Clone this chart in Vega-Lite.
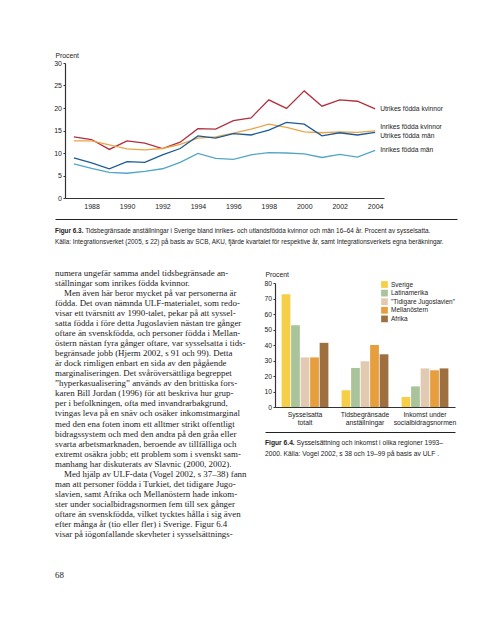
{
  "$schema": "https://vega.github.io/schema/vega-lite/v6.json",
  "background": "white",
  "padding": {"left": 53, "top": 52, "right": 4, "bottom": 4},
  "bounds": "flush",
  "spacing": 21,
  "resolve": {"scale": {"color": "independent"}, "legend": {"color": "independent"}},
  "datasets": {
    "lines": [
      {"year": 1987, "series": "Utrikes födda kvinnor", "value": 13.6},
      {"year": 1988, "series": "Utrikes födda kvinnor", "value": 13.0},
      {"year": 1989, "series": "Utrikes födda kvinnor", "value": 10.8},
      {"year": 1990, "series": "Utrikes födda kvinnor", "value": 12.7},
      {"year": 1991, "series": "Utrikes födda kvinnor", "value": 12.2},
      {"year": 1992, "series": "Utrikes födda kvinnor", "value": 11.0},
      {"year": 1993, "series": "Utrikes födda kvinnor", "value": 12.4},
      {"year": 1994, "series": "Utrikes födda kvinnor", "value": 15.4},
      {"year": 1995, "series": "Utrikes födda kvinnor", "value": 15.3},
      {"year": 1996, "series": "Utrikes födda kvinnor", "value": 17.2},
      {"year": 1997, "series": "Utrikes födda kvinnor", "value": 17.8},
      {"year": 1998, "series": "Utrikes födda kvinnor", "value": 21.8},
      {"year": 1999, "series": "Utrikes födda kvinnor", "value": 19.9},
      {"year": 2000, "series": "Utrikes födda kvinnor", "value": 23.8},
      {"year": 2001, "series": "Utrikes födda kvinnor", "value": 20.4},
      {"year": 2002, "series": "Utrikes födda kvinnor", "value": 21.8},
      {"year": 2003, "series": "Utrikes födda kvinnor", "value": 21.5},
      {"year": 2004, "series": "Utrikes födda kvinnor", "value": 19.8},
      {"year": 1987, "series": "Inrikes födda kvinnor", "value": 12.7},
      {"year": 1988, "series": "Inrikes födda kvinnor", "value": 12.7},
      {"year": 1989, "series": "Inrikes födda kvinnor", "value": 11.8},
      {"year": 1990, "series": "Inrikes födda kvinnor", "value": 10.9},
      {"year": 1991, "series": "Inrikes födda kvinnor", "value": 10.7},
      {"year": 1992, "series": "Inrikes födda kvinnor", "value": 11.0},
      {"year": 1993, "series": "Inrikes födda kvinnor", "value": 11.9},
      {"year": 1994, "series": "Inrikes födda kvinnor", "value": 13.3},
      {"year": 1995, "series": "Inrikes födda kvinnor", "value": 13.6},
      {"year": 1996, "series": "Inrikes födda kvinnor", "value": 14.4},
      {"year": 1997, "series": "Inrikes födda kvinnor", "value": 15.3},
      {"year": 1998, "series": "Inrikes födda kvinnor", "value": 16.4},
      {"year": 1999, "series": "Inrikes födda kvinnor", "value": 15.7},
      {"year": 2000, "series": "Inrikes födda kvinnor", "value": 14.7},
      {"year": 2001, "series": "Inrikes födda kvinnor", "value": 14.5},
      {"year": 2002, "series": "Inrikes födda kvinnor", "value": 14.7},
      {"year": 2003, "series": "Inrikes födda kvinnor", "value": 14.6},
      {"year": 2004, "series": "Inrikes födda kvinnor", "value": 14.9},
      {"year": 1987, "series": "Utrikes födda män", "value": 8.9},
      {"year": 1988, "series": "Utrikes födda män", "value": 7.8},
      {"year": 1989, "series": "Utrikes födda män", "value": 6.5},
      {"year": 1990, "series": "Utrikes födda män", "value": 8.1},
      {"year": 1991, "series": "Utrikes födda män", "value": 7.9},
      {"year": 1992, "series": "Utrikes födda män", "value": 9.6},
      {"year": 1993, "series": "Utrikes födda män", "value": 11.0},
      {"year": 1994, "series": "Utrikes födda män", "value": 13.8},
      {"year": 1995, "series": "Utrikes födda män", "value": 13.3},
      {"year": 1996, "series": "Utrikes födda män", "value": 14.3},
      {"year": 1997, "series": "Utrikes födda män", "value": 14.0},
      {"year": 1998, "series": "Utrikes födda män", "value": 15.1},
      {"year": 1999, "series": "Utrikes födda män", "value": 16.8},
      {"year": 2000, "series": "Utrikes födda män", "value": 16.4},
      {"year": 2001, "series": "Utrikes födda män", "value": 13.8},
      {"year": 2002, "series": "Utrikes födda män", "value": 14.5},
      {"year": 2003, "series": "Utrikes födda män", "value": 14.0},
      {"year": 2004, "series": "Utrikes födda män", "value": 14.6},
      {"year": 1987, "series": "Inrikes födda män", "value": 7.6},
      {"year": 1988, "series": "Inrikes födda män", "value": 6.6},
      {"year": 1989, "series": "Inrikes födda män", "value": 5.7},
      {"year": 1990, "series": "Inrikes födda män", "value": 5.5},
      {"year": 1991, "series": "Inrikes födda män", "value": 5.9},
      {"year": 1992, "series": "Inrikes födda män", "value": 6.5},
      {"year": 1993, "series": "Inrikes födda män", "value": 7.9},
      {"year": 1994, "series": "Inrikes födda män", "value": 9.9},
      {"year": 1995, "series": "Inrikes födda män", "value": 8.8},
      {"year": 1996, "series": "Inrikes födda män", "value": 8.6},
      {"year": 1997, "series": "Inrikes födda män", "value": 9.6},
      {"year": 1998, "series": "Inrikes födda män", "value": 10.1},
      {"year": 1999, "series": "Inrikes födda män", "value": 10.0},
      {"year": 2000, "series": "Inrikes födda män", "value": 9.8},
      {"year": 2001, "series": "Inrikes födda män", "value": 9.0},
      {"year": 2002, "series": "Inrikes födda män", "value": 9.7},
      {"year": 2003, "series": "Inrikes födda män", "value": 9.1},
      {"year": 2004, "series": "Inrikes födda män", "value": 10.6}
    ],
    "bars": [
      {"category": "Sysselsatta totalt", "region": "Sverige", "value": 72.8},
      {"category": "Sysselsatta totalt", "region": "Latinamerika", "value": 52.8},
      {"category": "Sysselsatta totalt", "region": "\"Tidigare Jugoslavien\"", "value": 32.0},
      {"category": "Sysselsatta totalt", "region": "Mellanöstern", "value": 32.0},
      {"category": "Sysselsatta totalt", "region": "Afrika", "value": 41.4},
      {"category": "Tidsbegränsade anställningar", "region": "Sverige", "value": 10.8},
      {"category": "Tidsbegränsade anställningar", "region": "Latinamerika", "value": 25.2},
      {"category": "Tidsbegränsade anställningar", "region": "\"Tidigare Jugoslavien\"", "value": 29.5},
      {"category": "Tidsbegränsade anställningar", "region": "Mellanöstern", "value": 40.0},
      {"category": "Tidsbegränsade anställningar", "region": "Afrika", "value": 34.0},
      {"category": "Inkomst under socialbidragsnormen", "region": "Sverige", "value": 6.5},
      {"category": "Inkomst under socialbidragsnormen", "region": "Latinamerika", "value": 13.3},
      {"category": "Inkomst under socialbidragsnormen", "region": "\"Tidigare Jugoslavien\"", "value": 24.9},
      {"category": "Inkomst under socialbidragsnormen", "region": "Mellanöstern", "value": 23.7},
      {"category": "Inkomst under socialbidragsnormen", "region": "Afrika", "value": 24.9}
    ],
    "body": [
      {"line": 0, "paragraphStart": false, "text": "numera ungefär samma andel tidsbegränsade an-"},
      {"line": 1, "paragraphStart": false, "text": "ställningar som inrikes födda kvinnor."},
      {"line": 2, "paragraphStart": true, "text": "Men även här beror mycket på var personerna är"},
      {"line": 3, "paragraphStart": false, "text": "födda. Det ovan nämnda ULF-materialet, som redo-"},
      {"line": 4, "paragraphStart": false, "text": "visar ett tvärsnitt av 1990-talet, pekar på att syssel-"},
      {"line": 5, "paragraphStart": false, "text": "satta födda i före detta Jugoslavien nästan tre gånger"},
      {"line": 6, "paragraphStart": false, "text": "oftare än svenskfödda, och personer födda i Mellan-"},
      {"line": 7, "paragraphStart": false, "text": "östern nästan fyra gånger oftare, var sysselsatta i tids-"},
      {"line": 8, "paragraphStart": false, "text": "begränsade jobb (Hjerm 2002, s 91 och 99). Detta"},
      {"line": 9, "paragraphStart": false, "text": "är dock rimligen enbart en sida av den pågående"},
      {"line": 10, "paragraphStart": false, "text": "marginaliseringen. Det svåröversättliga begreppet"},
      {"line": 11, "paragraphStart": false, "text": "”hyperkasualisering” används av den brittiska fors-"},
      {"line": 12, "paragraphStart": false, "text": "karen Bill Jordan (1996) för att beskriva hur grup-"},
      {"line": 13, "paragraphStart": false, "text": "per i befolkningen, ofta med invandrarbakgrund,"},
      {"line": 14, "paragraphStart": false, "text": "tvingas leva på en snäv och osäker inkomstmarginal"},
      {"line": 15, "paragraphStart": false, "text": "med den ena foten inom ett alltmer strikt offentligt"},
      {"line": 16, "paragraphStart": false, "text": "bidragssystem och med den andra på den gråa eller"},
      {"line": 17, "paragraphStart": false, "text": "svarta arbetsmarknaden, beroende av tillfälliga och"},
      {"line": 18, "paragraphStart": false, "text": "extremt osäkra jobb; ett problem som i svenskt sam-"},
      {"line": 19, "paragraphStart": false, "text": "manhang har diskuterats av Slavnic (2000, 2002)."},
      {"line": 20, "paragraphStart": true, "text": "Med hjälp av ULF-data (Vogel 2002, s 37–38) fann"},
      {"line": 21, "paragraphStart": false, "text": "man att personer födda i Turkiet, det tidigare Jugo-"},
      {"line": 22, "paragraphStart": false, "text": "slavien, samt Afrika och Mellanöstern hade inkom-"},
      {"line": 23, "paragraphStart": false, "text": "ster under socialbidragsnormen fem till sex gånger"},
      {"line": 24, "paragraphStart": false, "text": "oftare än svenskfödda, vilket tycktes hålla i sig även"},
      {"line": 25, "paragraphStart": false, "text": "efter många år (tio eller fler) i Sverige. Figur 6.4"},
      {"line": 26, "paragraphStart": false, "text": "visar på iögonfallande skevheter i sysselsättnings-"},
      {"line": 30, "paragraphStart": false, "text": "68"}
    ],
    "cap63": [
      {"line": 1, "part": "head", "text": "Figur 6.3."},
      {"line": 1, "part": "body", "text": "Tidsbegränsade anställningar i Sverige bland inrikes- och utlandsfödda kvinnor och män 16–64 år. Procent av sysselsatta."},
      {"line": 2, "part": "full", "text": "Källa: Integrationsverket (2005, s 22) på basis av SCB, AKU, fjärde kvartalet för respektive år, samt Integrationsverkets egna beräkningar."}
    ],
    "cap64": [
      {"line": 1, "part": "head", "text": "Figur 6.4."},
      {"line": 1, "part": "body", "text": "Sysselsättning och inkomst i olika regioner 1993–"},
      {"line": 2, "part": "full", "text": "2000. Källa: Vogel 2002, s 38 och 19–99 på basis av ULF ."}
    ]
  },
  "vconcat": [
    {
      "width": 319, "height": 135,
      "data": {"name": "lines"},
      "encoding": {
        "x": {"field": "year", "type": "quantitative",
          "scale": {"domain": [1986.5, 2004.5], "nice": false, "zero": false},
          "axis": {"values": [1988, 1990, 1992, 1994, 1996, 1998, 2000, 2002, 2004], "format": "d", "ticks": false, "labelPadding": 4, "title": null, "labelFontSize": 7}},
        "y": {"field": "value", "type": "quantitative",
          "scale": {"domain": [0, 30], "nice": false},
          "axis": {"values": [0, 5, 10, 15, 20, 25, 30], "title": "Procent", "titleAngle": 0, "titleAlign": "left", "titleX": -10, "titleY": -5.4, "titleBaseline": "alphabetic", "tickSize": 2, "labelPadding": 1.5, "labelFontSize": 7, "titleFontSize": 6.8}}
      },
      "layer": [
        {
          "mark": {"type": "line", "strokeWidth": 1.3},
          "encoding": {
            "color": {"field": "series", "type": "nominal",
              "scale": {"domain": ["Utrikes födda kvinnor", "Inrikes födda kvinnor", "Utrikes födda män", "Inrikes födda män"],
                        "range": ["#b22f3d", "#eaa448", "#1c5b97", "#52a6c8"]},
              "legend": null}
          }
        },
        {
          "transform": [{"filter": "datum.year == 2004 && (datum.series == 'Utrikes födda kvinnor' || datum.series == 'Inrikes födda män')"}],
          "mark": {"type": "text", "align": "left", "baseline": "middle", "dx": 5, "dy": 0, "fontSize": 6.7, "color": "#222"},
          "encoding": {"text": {"field": "series"}}
        },
        {
          "transform": [{"filter": "datum.year == 2004 && datum.series == 'Inrikes födda kvinnor'"}],
          "mark": {"type": "text", "align": "left", "baseline": "middle", "dx": 5, "dy": -4, "fontSize": 6.7, "color": "#222"},
          "encoding": {"text": {"field": "series"}}
        },
        {
          "transform": [{"filter": "datum.year == 2004 && datum.series == 'Utrikes födda män'"}],
          "mark": {"type": "text", "align": "left", "baseline": "middle", "dx": 5, "dy": 4, "fontSize": 6.7, "color": "#222"},
          "encoding": {"text": {"field": "series"}}
        }
      ]
    },
    {
      "width": 392, "height": 43,
      "data": {"name": "cap63"},
      "encoding": {
        "x": {"datum": 0, "type": "quantitative", "scale": {"domain": [0, 1], "nice": false, "range": [-10, 392]},
          "axis": {"orient": "top", "labels": false, "ticks": false, "domain": true, "title": null, "grid": false, "domainColor": "#222", "domainWidth": 1}},
        "y": {"field": "line", "type": "quantitative", "scale": {"domain": [0, 3], "nice": false, "range": [0, 33]}, "axis": null},
        "text": {"field": "text"}
      },
      "layer": [
        {"transform": [{"filter": "datum.part == 'head'"}],
         "mark": {"type": "text", "align": "left", "baseline": "alphabetic", "fontWeight": "bold", "fontSize": 6.4, "dy": 2.5, "color": "#222"}},
        {"transform": [{"filter": "datum.part == 'body'"}],
         "mark": {"type": "text", "align": "left", "baseline": "alphabetic", "fontSize": 6.4, "dx": 30.2, "dy": 2.5, "color": "#222"}},
        {"transform": [{"filter": "datum.part == 'full'"}],
         "mark": {"type": "text", "align": "left", "baseline": "alphabetic", "fontSize": 6.4, "dy": 2.5, "color": "#222"}}
      ]
    },
    {
      "bounds": "flush",
      "spacing": 27,
      "resolve": {"scale": {"color": "independent"}, "legend": {"color": "independent"}},
      "hconcat": [
        {
          "width": 183, "height": 302,
          "data": {"name": "body"},
          "encoding": {
            "x": {"datum": 0, "type": "quantitative", "scale": {"domain": [0, 1], "nice": false, "range": [-10, 183]}, "axis": null},
            "y": {"field": "line", "type": "quantitative", "scale": {"domain": [0, 30], "nice": false, "range": [0, 302]}, "axis": null},
            "text": {"field": "text"}
          },
          "layer": [
            {"transform": [{"filter": "!datum.paragraphStart"}],
             "mark": {"type": "text", "align": "left", "baseline": "alphabetic", "font": "Liberation Serif", "fontSize": 8.9, "dy": -7.5, "color": "#1a1a1a"}},
            {"transform": [{"filter": "datum.paragraphStart"}],
             "mark": {"type": "text", "align": "left", "baseline": "alphabetic", "font": "Liberation Serif", "fontSize": 8.9, "dx": 9, "dy": -7.5, "color": "#1a1a1a"}}
          ]
        },
        {
          "bounds": "flush",
          "spacing": 25,
          "resolve": {"scale": {"color": "independent"}, "legend": {"color": "independent"}},
          "vconcat": [
            {
              "width": 180, "height": 124,
              "data": {"name": "bars"},
              "mark": {"type": "bar"},
              "encoding": {
                "x": {"field": "category", "type": "nominal",
                  "sort": ["Sysselsatta totalt", "Tidsbegränsade anställningar", "Inkomst under socialbidragsnormen"],
                  "scale": {"paddingInner": 0.22, "paddingOuter": 0.11},
                  "axis": {"title": null, "labelAngle": 0, "ticks": false, "labelPadding": 4, "labelBaseline": "top", "labelLineHeight": 8, "labelFontSize": 6.8,
                    "labelExpr": "[substring(datum.label, 0, lastindexof(datum.label, ' ')), substring(datum.label, lastindexof(datum.label, ' ') + 1)]"}},
                "xOffset": {"field": "region", "type": "nominal",
                  "sort": ["Sverige", "Latinamerika", "\"Tidigare Jugoslavien\"", "Mellanöstern", "Afrika"],
                  "scale": {"paddingInner": 0.08}},
                "y": {"field": "value", "type": "quantitative",
                  "scale": {"domain": [0, 80], "nice": false},
                  "axis": {"values": [0, 10, 20, 30, 40, 50, 60, 70, 80], "title": "Procent", "titleAngle": 0, "titleAlign": "left", "titleX": -10, "titleY": -6.5, "titleBaseline": "alphabetic", "tickSize": 2, "labelPadding": 1.5, "labelFontSize": 6.8, "titleFontSize": 6.8}},
                "color": {"field": "region", "type": "nominal",
                  "scale": {"domain": ["Sverige", "Latinamerika", "\"Tidigare Jugoslavien\"", "Mellanöstern", "Afrika"],
                            "range": ["#f5cf48", "#a9c49b", "#e2cab2", "#e79e3c", "#9e7040"]},
                  "legend": {"title": null, "orient": "none", "legendX": 106, "legendY": -2, "symbolType": "square", "symbolSize": 45, "symbolStrokeWidth": 0, "labelFontSize": 6.5, "labelOffset": 3, "rowPadding": 1.6, "labelColor": "#222"}}
              }
            },
            {
              "width": 180, "height": 33,
              "data": {"name": "cap64"},
              "encoding": {
                "x": {"datum": 0, "type": "quantitative", "scale": {"domain": [0, 1], "nice": false, "range": [-10, 180]},
                  "axis": {"orient": "top", "labels": false, "ticks": false, "domain": true, "title": null, "grid": false, "domainColor": "#222", "domainWidth": 1}},
                "y": {"field": "line", "type": "quantitative", "scale": {"domain": [0, 3], "nice": false, "range": [0, 33]}, "axis": null},
                "text": {"field": "text"}
              },
              "layer": [
                {"transform": [{"filter": "datum.part == 'head'"}],
                 "mark": {"type": "text", "align": "left", "baseline": "alphabetic", "fontWeight": "bold", "fontSize": 6.7, "dy": 1.5, "color": "#222"}},
                {"transform": [{"filter": "datum.part == 'body'"}],
                 "mark": {"type": "text", "align": "left", "baseline": "alphabetic", "fontSize": 6.7, "dx": 31.6, "dy": 1.5, "color": "#222"}},
                {"transform": [{"filter": "datum.part == 'full'"}],
                 "mark": {"type": "text", "align": "left", "baseline": "alphabetic", "fontSize": 6.7, "dy": 1.5, "color": "#222"}}
              ]
            }
          ]
        }
      ]
    }
  ],
  "config": {
    "view": {"stroke": null},
    "font": "Liberation Sans",
    "axis": {"grid": false, "labelColor": "#222", "titleColor": "#222", "titleFontWeight": "normal", "domainColor": "#333", "domainWidth": 1.2, "tickColor": "#333", "tickWidth": 1},
    "legend": {"labelFont": "Liberation Sans"}
  }
}
